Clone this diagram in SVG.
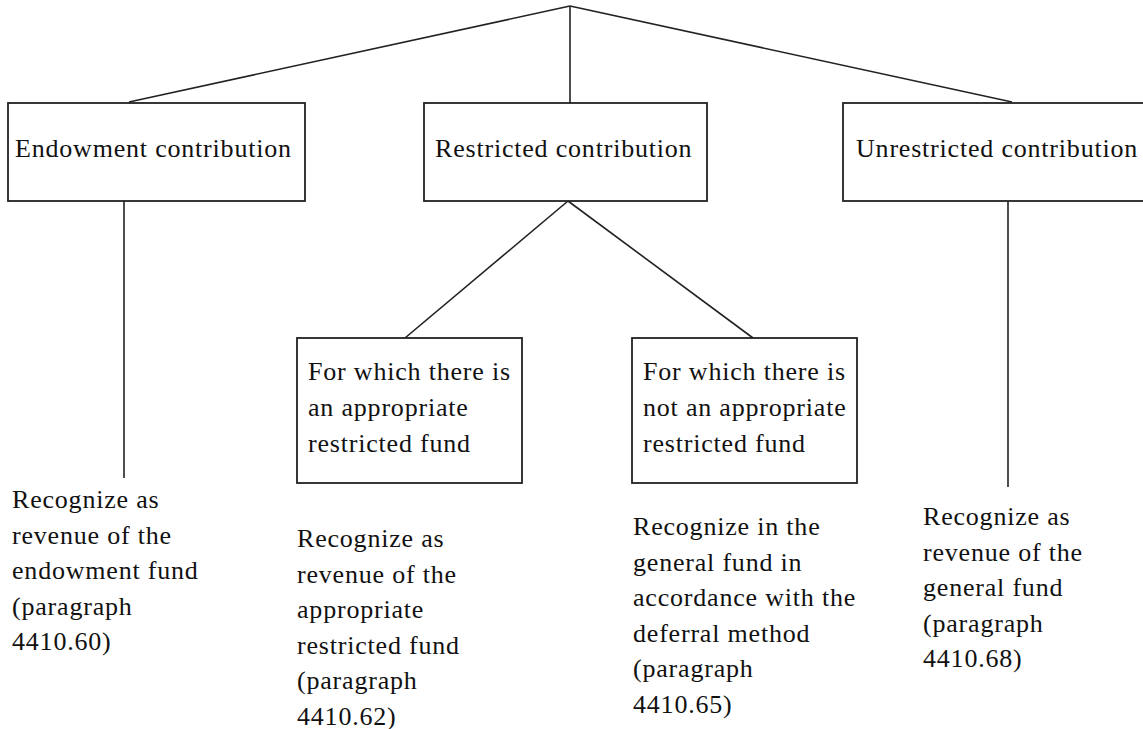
<svg xmlns="http://www.w3.org/2000/svg" width="1143" height="729" viewBox="0 0 1143 729">
<style>
.box{fill:#fff;stroke:#222;stroke-width:1.8}
.ln{fill:none;stroke:#222;stroke-width:1.6}
text{font-family:"Liberation Serif","Times New Roman",serif;font-size:26px;letter-spacing:0.8px;fill:#111}
</style>
<rect width="1143" height="729" fill="#fff"/>
<g id="connectors">
<line class="ln" x1="570" y1="6" x2="129" y2="102"/>
<line class="ln" x1="570" y1="6" x2="570" y2="103"/>
<line class="ln" x1="570" y1="6" x2="1012" y2="102"/>
<line class="ln" x1="124" y1="201" x2="124" y2="478"/>
<line class="ln" x1="1008" y1="201" x2="1008" y2="487"/>
<line class="ln" x1="568" y1="201" x2="405" y2="338"/>
<line class="ln" x1="568" y1="201" x2="753" y2="338"/>
</g>
<g id="endowment">
<rect class="box" x="8" y="103" width="297" height="98"/>
<text x="15" y="157">Endowment contribution</text>
</g>
<g id="restricted">
<rect class="box" x="424" y="103" width="283" height="98"/>
<text x="435" y="157">Restricted contribution</text>
</g>
<g id="unrestricted">
<rect class="box" x="843" y="103" width="320" height="98"/>
<text x="856" y="157">Unrestricted contribution</text>
</g>
<g id="with-fund">
<rect class="box" x="297" y="338" width="225" height="145"/>
<text x="308" y="380">For which there is</text>
<text x="308" y="416">an appropriate</text>
<text x="308" y="452">restricted fund</text>
</g>
<g id="without-fund">
<rect class="box" x="632" y="338" width="225" height="145"/>
<text x="643" y="380">For which there is</text>
<text x="643" y="416">not an appropriate</text>
<text x="643" y="452">restricted fund</text>
</g>
<g id="endowment-result">
<text x="12" y="508">Recognize as</text>
<text x="12" y="543.5">revenue of the</text>
<text x="12" y="579">endowment fund</text>
<text x="12" y="614.5">(paragraph</text>
<text x="12" y="650">4410.60)</text>
</g>
<g id="with-fund-result">
<text x="297" y="547">Recognize as</text>
<text x="297" y="582.5">revenue of the</text>
<text x="297" y="618">appropriate</text>
<text x="297" y="653.5">restricted fund</text>
<text x="297" y="689">(paragraph</text>
<text x="297" y="724.5">4410.62)</text>
</g>
<g id="without-fund-result">
<text x="633" y="535">Recognize in the</text>
<text x="633" y="570.5">general fund in</text>
<text x="633" y="606">accordance with the</text>
<text x="633" y="641.5">deferral method</text>
<text x="633" y="677">(paragraph</text>
<text x="633" y="712.5">4410.65)</text>
</g>
<g id="unrestricted-result">
<text x="923" y="525">Recognize as</text>
<text x="923" y="560.5">revenue of the</text>
<text x="923" y="596">general fund</text>
<text x="923" y="631.5">(paragraph</text>
<text x="923" y="667">4410.68)</text>
</g>
</svg>
